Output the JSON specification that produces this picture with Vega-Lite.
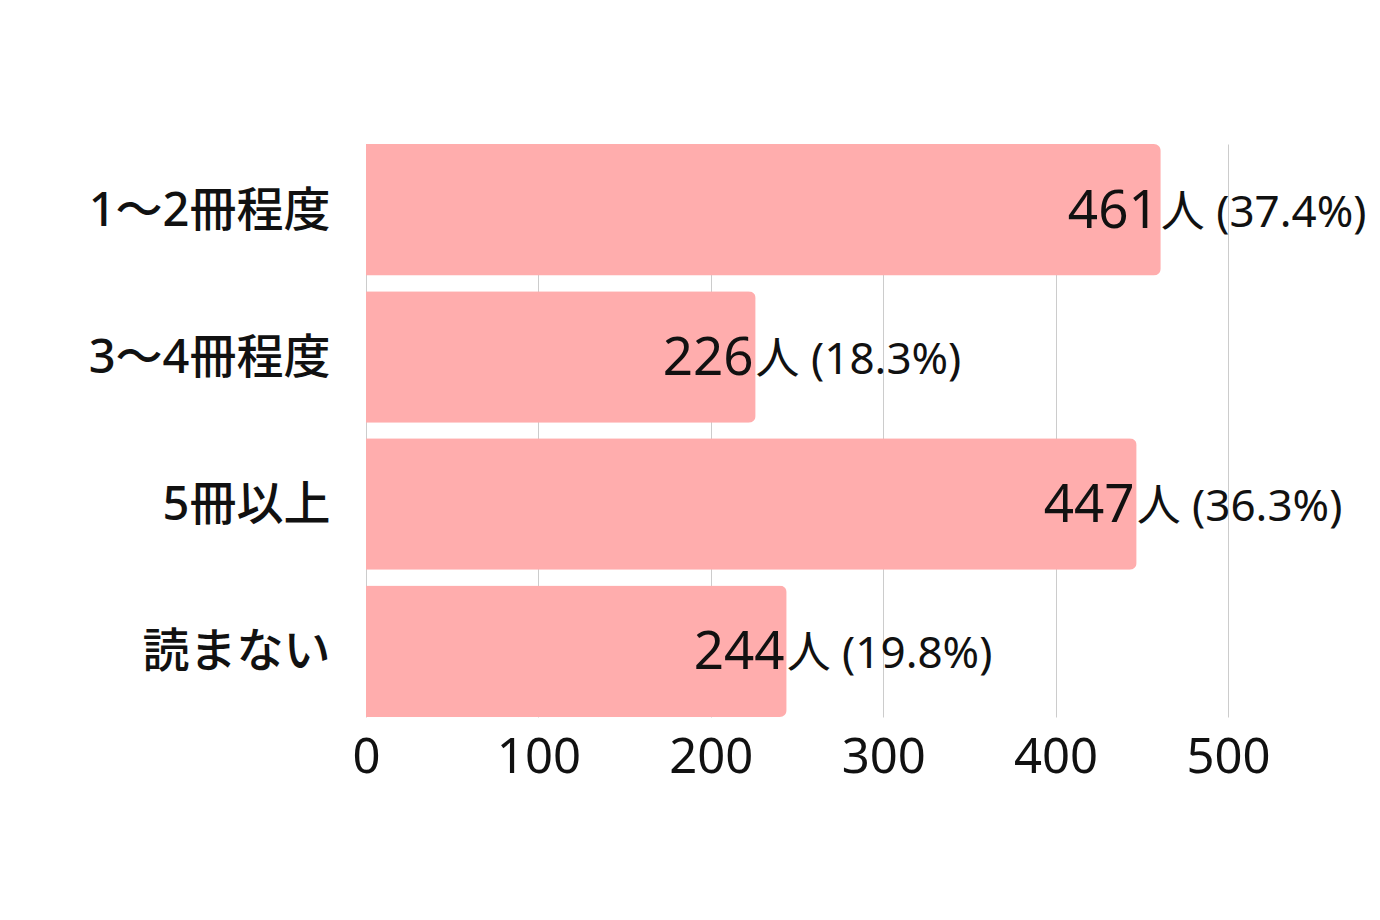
{
  "$schema": "https://vega.github.io/schema/vega-lite/v6.json",
  "width": 862,
  "height": 573,
  "autosize": {"type": "none"},
  "padding": {"left": 366, "top": 144, "right": 152, "bottom": 203},
  "background": "white",
  "config": {
    "view": {"stroke": null},
    "font": "Noto Sans, Noto Sans CJK JP"
  },
  "data": {
    "values": [
      {"category": "1〜2冊程度", "count": 461, "pct": 37.4},
      {"category": "3〜4冊程度", "count": 226, "pct": 18.3},
      {"category": "5冊以上", "count": 447, "pct": 36.3},
      {"category": "読まない", "count": 244, "pct": 19.8}
    ]
  },
  "transform": [
    {"calculate": "'人 (' + format(datum.pct, '.1f') + '%)'", "as": "suffix"}
  ],
  "encoding": {
    "y": {
      "field": "category",
      "type": "nominal",
      "sort": null,
      "scale": {"paddingInner": 0.107, "paddingOuter": 0},
      "axis": {
        "title": null,
        "ticks": false,
        "domain": false,
        "labelFontSize": 47,
        "labelFont": "Noto Sans, Noto Sans CJK JP",
        "labelFontWeight": 500,
        "labelColor": "#111111",
        "labelPadding": 36,
        "labelLimit": 0,
        "labelOffset": 2
      }
    },
    "x": {
      "field": "count",
      "type": "quantitative",
      "scale": {"domain": [0, 500], "nice": false},
      "axis": {
        "title": null,
        "values": [0, 100, 200, 300, 400, 500],
        "ticks": false,
        "domain": false,
        "grid": true,
        "gridColor": "#cccccc",
        "gridWidth": 1,
        "labelFontSize": 49,
        "labelFont": "Noto Sans, Noto Sans CJK JP",
        "labelColor": "#111111",
        "labelPadding": 16,
        "labelFlush": false
      }
    }
  },
  "layer": [
    {
      "mark": {"type": "bar", "color": "#FFADAD", "cornerRadiusEnd": 7}
    },
    {
      "mark": {"type": "text", "align": "right", "baseline": "middle", "dx": -2, "dy": 2, "fontSize": 53, "color": "#111111", "font": "Noto Sans, Noto Sans CJK JP"},
      "encoding": {"text": {"field": "count", "type": "quantitative"}}
    },
    {
      "mark": {"type": "text", "align": "left", "baseline": "middle", "dx": 0, "dy": 4, "fontSize": 44, "color": "#111111", "font": "Noto Sans, Noto Sans CJK JP"},
      "encoding": {"text": {"field": "suffix", "type": "nominal"}}
    }
  ]
}
